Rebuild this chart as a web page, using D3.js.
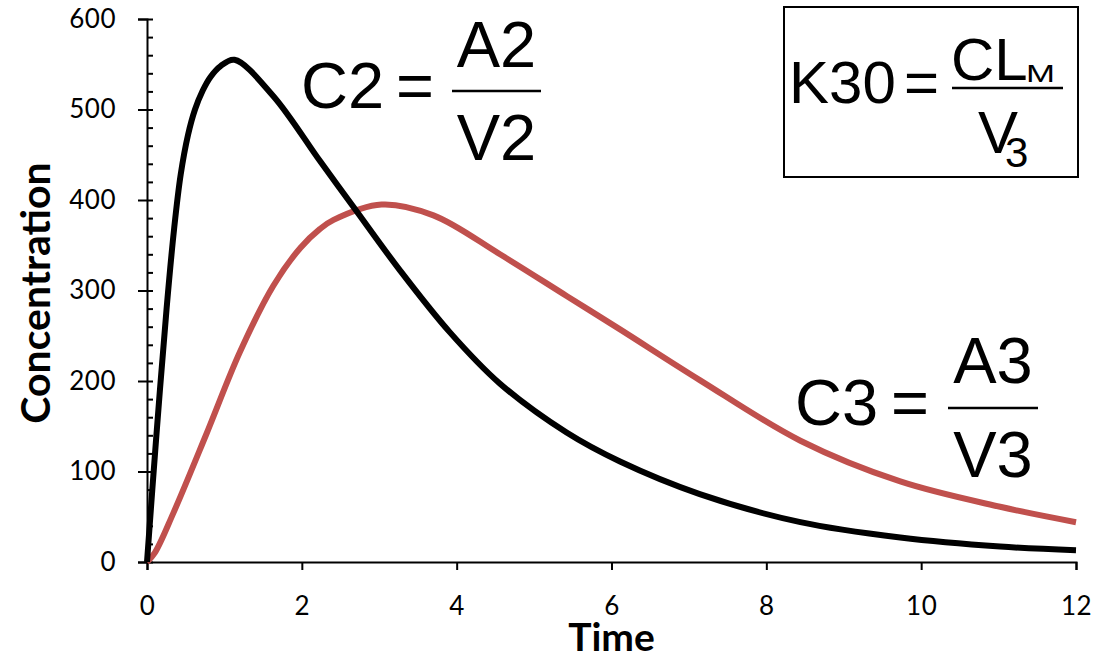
<!DOCTYPE html>
<html>
<head>
<meta charset="utf-8">
<script src="https://cdn.jsdelivr.net/npm/d3@7"></script>
<style>
  body { margin: 0; background: #fff; }
  .eq { font-family: "Liberation Sans", Arial, sans-serif; fill: #000; }
</style>
</head>
<body>
<div id="chart"></div>
<script>
// values
var timeC2 = [0, 0.116, 0.254, 0.35, 0.435, 0.53, 0.62, 0.72, 0.82, 0.95, 1.13, 1.63, 2.235, 2.67, 3.27, 3.91, 4.56, 5.42, 6.11, 7.14, 8.44, 9.73, 11.02, 12]
var concC2 = [0, 134, 281, 368, 428, 472, 500, 521, 536, 548, 555, 515, 443, 392, 322, 254, 197, 143, 111, 75, 44, 27, 17, 13]

var timeC3 = [0, 0.1, 0.34, 0.77, 1.2, 1.63, 1.98, 2.235, 2.41, 3.03, 3.7, 4.56, 5.42, 6.11, 7.14, 8.44, 9.73, 11.02, 12]
var concC3 = [0, 10, 54, 142, 232, 305, 347, 368, 378, 395, 383, 340, 294, 257, 201, 134, 89, 61, 44]

var xTicks = [0, 2, 4, 6, 8, 10, 12]
var yTicks = [0, 100, 200, 300, 400, 500, 600]
var yMinor = d3.range(0, 601, 20)

// set the dimensions and margins of the graph
var margin = {top: 19, right: 24, bottom: 95, left: 147},
    width = 1100 - margin.left - margin.right,
    height = 657 - margin.top - margin.bottom;

var root = d3.select("#chart")
  .append("svg")
    .attr("width", 1100)
    .attr("height", 657)

var svg = root.append("g")
    .attr("transform", "translate(" + margin.left + "," + margin.top + ")");

var x = d3.scaleLinear()
  .domain([0, 12])
  .range([0, width]);

var y = d3.scaleLinear()
  .domain([0, 600])
  .range([height, 0]);

// X axis
var xAxis = svg.append("g")
  .attr("transform", "translate(0," + height + ")")
  .call(d3.axisBottom(x).tickValues(xTicks).tickSizeOuter(0).tickSize(8).tickPadding(27))
xAxis.selectAll("text")
  .style("font-family", "Lato, sans-serif")
  .style("font-size", "26px")
  .style("letter-spacing", "0.5px")
  .attr("fill", "#000")

// Y axis, major ticks outside
var yAxis = svg.append("g")
  .call(d3.axisLeft(y).tickValues(yTicks).tickSizeOuter(0).tickSize(9).tickPadding(22))
yAxis.selectAll("text")
  .style("font-family", "Lato, sans-serif")
  .style("font-size", "26px")
  .style("letter-spacing", "0.5px")
  .attr("fill", "#000")

// minor ticks inside
svg.append("g")
  .call(d3.axisRight(y).tickValues(yMinor).tickSize(6).tickFormat(""))
  .select(".domain").remove()

svg.selectAll(".domain, .tick line").attr("stroke", "#000").attr("stroke-width", 2)

// curves
var line = d3.line()
  .x(function(d) { return x(d[0]); })
  .y(function(d) { return y(d[1]); })
  .curve(d3.curveCatmullRom.alpha(0.5))

svg.append("path")
  .datum(d3.zip(timeC3, concC3))
  .attr("fill", "none")
  .attr("stroke", "#C0504D")
  .attr("stroke-width", 6)
  .attr("d", line)

svg.append("path")
  .datum(d3.zip(timeC2, concC2))
  .attr("fill", "none")
  .attr("stroke", "#000")
  .attr("stroke-width", 6)
  .attr("d", line)

// axis titles
root.append("text")
  .attr("x", margin.left + x(6))
  .attr("y", 651)
  .attr("text-anchor", "middle")
  .style("font-family", "Lato, sans-serif")
  .style("font-weight", "bold")
  .style("font-size", "39px")
  .text("Time")

root.append("text")
  .attr("transform", "translate(50,293)rotate(-90)")
  .attr("text-anchor", "middle")
  .style("font-family", "Lato, sans-serif")
  .style("font-weight", "bold")
  .style("font-size", "41px")
  .text("Concentration")

// equations written as text with a fraction bar
function equation(lhs, lhsX, eqX, x1, x2, lineY, baseY, num, numY, den, denY, size)
{
  root.append("text").attr("class", "eq").attr("x", lhsX).attr("y", baseY)
    .style("font-size", size + "px").text(lhs)
  root.append("text").attr("class", "eq").attr("x", eqX).attr("y", baseY)
    .style("font-size", size + "px").text("=")
  root.append("line").attr("x1", x1).attr("x2", x2).attr("y1", lineY).attr("y2", lineY)
    .attr("stroke", "#000").attr("stroke-width", 2.5)
  root.append("text").attr("class", "eq").attr("x", (x1 + x2) / 2).attr("y", numY)
    .attr("text-anchor", "middle").style("font-size", size + "px").text(num)
  root.append("text").attr("class", "eq").attr("x", (x1 + x2) / 2).attr("y", denY)
    .attr("text-anchor", "middle").style("font-size", size + "px").text(den)
}

equation("C2", 301, 396, 452, 541, 91, 108, "A2", 67, "V2", 160, 65)
equation("C3", 795, 891, 948, 1038, 408, 425, "A3", 383, "V3", 477, 65)

// K30 box
root.append("rect")
  .attr("x", 784).attr("y", 7)
  .attr("width", 294).attr("height", 170)
  .attr("fill", "none").attr("stroke", "#000").attr("stroke-width", 2)

root.append("text").attr("class", "eq").attr("x", 789).attr("y", 103)
  .style("font-size", "60px").text("K30")
root.append("text").attr("class", "eq").attr("x", 904).attr("y", 103)
  .style("font-size", "60px").text("=")
root.append("line").attr("x1", 952).attr("x2", 1063).attr("y1", 88).attr("y2", 88)
  .attr("stroke", "#000").attr("stroke-width", 2.5)
root.append("text").attr("class", "eq").attr("x", 951).attr("y", 80)
  .style("font-size", "60px").text("CL")
root.append("text").attr("class", "eq").attr("x", 1026).attr("y", 82)
  .style("font-size", "24px")
  .attr("textLength", 29).attr("lengthAdjust", "spacingAndGlyphs")
  .text("M")
root.append("text").attr("class", "eq").attr("x", 978).attr("y", 153)
  .style("font-size", "60px").text("V")
root.append("text").attr("class", "eq").attr("x", 1005).attr("y", 167)
  .style("font-size", "42px").text("3")
</script>
</body>
</html>
